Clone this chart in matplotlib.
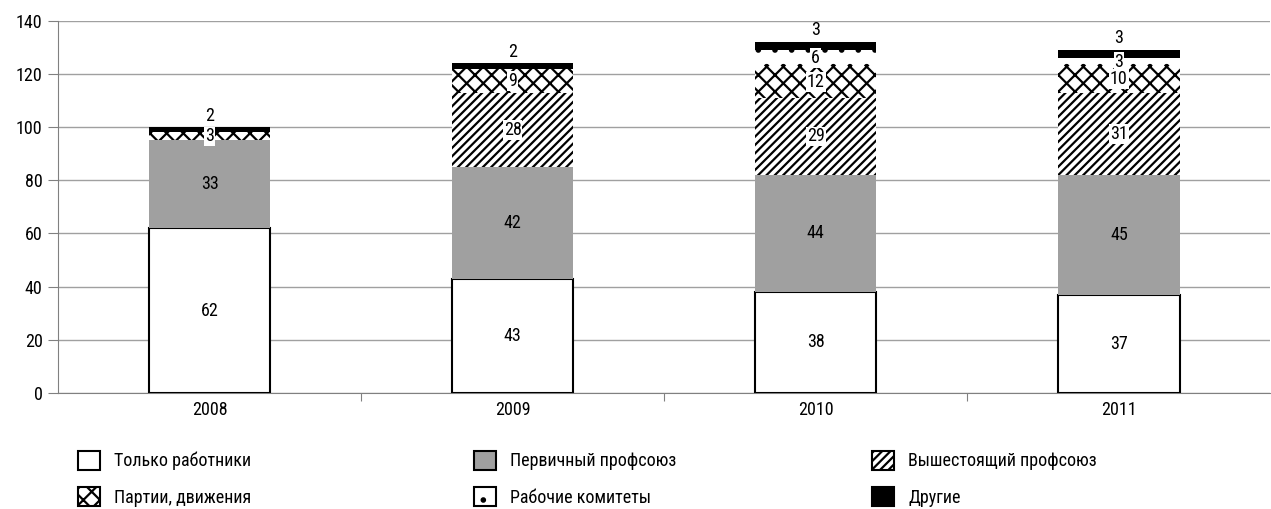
import numpy as np
import matplotlib.pyplot as plt
from matplotlib.patches import Patch

plt.rcParams['font.family'] = ['Roboto Condensed', 'DejaVu Sans']
plt.rcParams['hatch.linewidth'] = 1.6

years = ['2008', '2009', '2010', '2011']
tolko = [62, 43, 38, 37]
pervich = [33, 42, 44, 45]
vysh = [0, 28, 29, 31]
partii = [3, 9, 12, 10]
rabochie = [0, 0, 6, 3]
drugie = [2, 2, 3, 3]

names = ['Только работники', 'Первичный профсоюз', 'Вышестоящий профсоюз',
         'Партии, движения', 'Рабочие комитеты', 'Другие']
series = [tolko, pervich, vysh, partii, rabochie, drugie]
styles = [dict(facecolor='white', edgecolor='black', linewidth=1.5),
          dict(facecolor='#a0a0a0', edgecolor='#a0a0a0', linewidth=0),
          dict(facecolor='white', edgecolor='black', linewidth=0, hatch='////'),
          dict(facecolor='white', edgecolor='black', linewidth=0, hatch='xx'),
          dict(facecolor='white', edgecolor='black', linewidth=0, hatch='.'),
          dict(facecolor='black', edgecolor='black', linewidth=0)]
boxed = [False, False, True, True, True, False]
fs = 13

fig = plt.figure(figsize=(12.71, 5.09), dpi=100)
ax = fig.add_axes([0.0456, 0.228, 0.954, 0.731])

x = np.arange(len(years))
w = 0.40
bottom = np.zeros(len(years))
for vals, st in zip(series, styles):
    vals = np.array(vals, dtype=float)
    ax.bar(x, vals, w, bottom=bottom, zorder=3, **st)
    bottom += vals

# подписи значений (нижние поверх верхних)
bottom = np.zeros(len(years))
for k, vals in enumerate(series):
    for i, v in enumerate(vals):
        if v == 0:
            continue
        if k == len(series) - 1:
            ax.text(x[i], bottom[i] + v + 1.0, str(v), ha='center', va='bottom',
                    fontsize=fs, zorder=5)
        else:
            bb = dict(facecolor='white', edgecolor='none', pad=0.6) if boxed[k] else None
            ax.text(x[i], bottom[i] + v / 2, str(v), ha='center', va='center',
                    fontsize=fs, zorder=20 - k, bbox=bb)
    bottom += np.array(vals)

ax.set_xlim(-0.5, 3.5)
ax.set_ylim(0, 140)
ax.set_yticks(np.arange(0, 141, 20))
ax.yaxis.grid(True, color='#a0a0a0', linewidth=1)
ax.set_axisbelow(True)
for s in ['top', 'right']:
    ax.spines[s].set_visible(False)
ax.spines['left'].set_color('#808080')
ax.spines['bottom'].set_color('#808080')
ax.set_xticks([0.5, 1.5, 2.5])
ax.set_xticklabels([])
ax.tick_params(axis='x', which='major', length=6, color='#808080')
ax.set_xticks(x, minor=True)
ax.set_xticklabels(years, minor=True)
ax.tick_params(axis='x', which='minor', length=0, pad=6, labelsize=fs)
ax.tick_params(axis='y', length=7, color='#808080', labelsize=fs, pad=4)

handles = []
for st in styles:
    h = Patch(**st)
    h.set_linewidth(1.5)
    h.set_edgecolor('black')
    handles.append(h)

# легенда: три столбца по две строки
col_x = [78 / 1271, 474 / 1271, 872 / 1271]
for c in range(3):
    idx = [c, c + 3]
    fig.legend([handles[i] for i in idx], [names[i] for i in idx],
               loc='upper left', bbox_to_anchor=(col_x[c], 1 - 451 / 509),
               frameon=False, fontsize=fs, borderpad=0, borderaxespad=0,
               handlelength=1.2, handleheight=1.2, handletextpad=0.8,
               labelspacing=0.95)

fig.savefig('out.png', dpi=100)
